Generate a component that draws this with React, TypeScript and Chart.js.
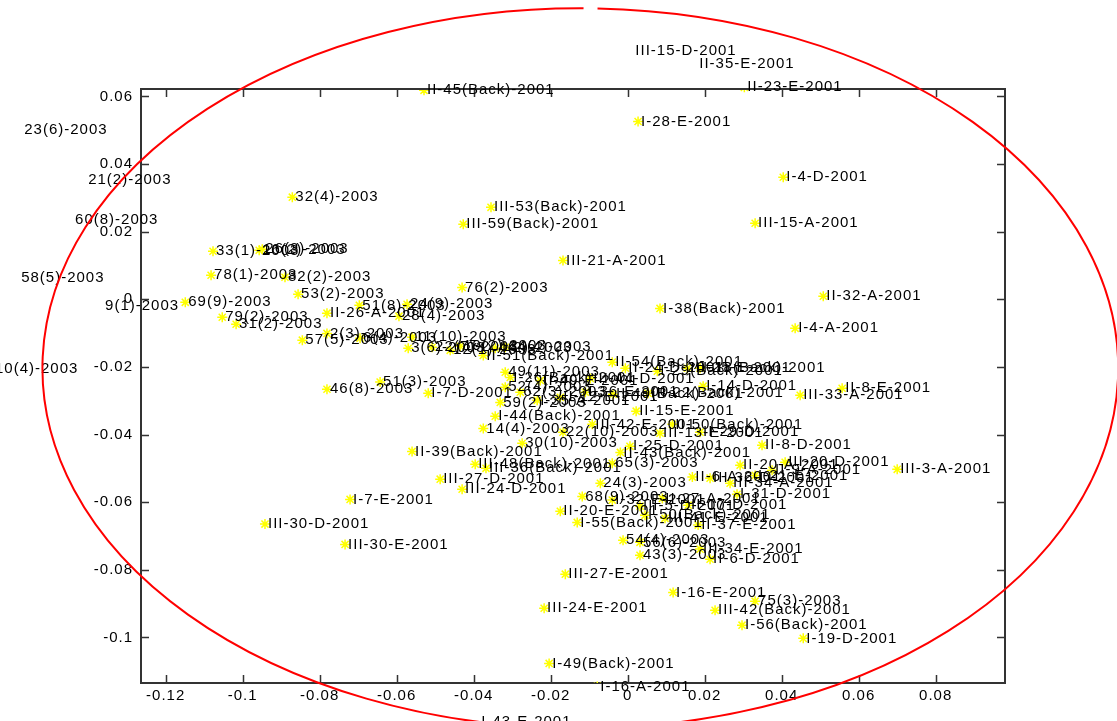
import React, { useEffect, useRef } from 'react';
import { Chart, registerables } from 'chart.js';

Chart.register(...registerables);

const pointLabels: string[] = [
  'III-15-D-2001', 'II-35-E-2001', 'II-23-E-2001', 'II-45(Back)-2001', 'I-28-E-2001',
  '23(6)-2003', '21(2)-2003', '60(8)-2003', '58(5)-2003', '9(1)-2003',
  '10(4)-2003', 'I-43-E-2001', 'I-16-A-2001', 'I-4-D-2001', 'III-15-A-2001',
  '32(4)-2003', 'III-53(Back)-2001', 'III-59(Back)-2001', '33(1)-2003', '16(2)-2003',
  '26(3)-2003', 'III-21-A-2001', '78(1)-2003', '82(2)-2003', '76(2)-2003',
  '53(2)-2003', '69(9)-2003', 'I-38(Back)-2001', 'II-32-A-2001', 'I-4-A-2001',
  '51(8)-2003', '24(9)-2003', 'II-26-A-2001', '28(4)-2003', '79(2)-2003',
  '31(2)-2003', '2(3)-2003', '57(5)-2003', '6(4)-2003', '11(10)-2003',
  '3(6)-2003', '22(7)-2003', '19(2)-2003', '4(2)-2003', '44(4)-2003',
  'II-51(Back)-2001', '49(11)-2003', 'II-54(Back)-2001', 'II-24-D-2001', 'I-29(Back)-2001',
  'III-25-E-2001', 'I-26(Back)-2001', '52(4)-2003', '46(8)-2003', '51(3)-2003',
  'I-7-D-2001', '59(2)-2003', 'I-14-D-2001', 'III-33-A-2001', 'II-8-E-2001',
  'II-15-E-2001', 'I-44(Back)-2001', '14(4)-2003', '22(10)-2003', 'III-42-E-2001',
  'II-50(Back)-2001', '30(10)-2003', 'II-39(Back)-2001', 'II-43(Back)-2001', 'I-25-D-2001',
  '65(3)-2003', 'II-8-D-2001', 'III-48(Back)-2001', 'III-36(Back)-2001', 'III-27-D-2001',
  '24(3)-2003', 'III-24-D-2001', 'III-3-A-2001', 'II-20-A-2001', 'III-20-D-2001',
  'II-9-A-2001', 'II-6-A-2001', 'III-34-A-2001', 'I-31-D-2001', 'I-7-E-2001',
  '68(9)-2003', 'III-30-D-2001', 'II-20-E-2001', 'I-55(Back)-2001', 'II-37-E-2001',
  'III-30-E-2001', '54(4)-2003', '56(6)-2003', '43(3)-2003', 'III-34-E-2001',
  'II-6-D-2001', 'III-27-E-2001', 'I-16-E-2001', '75(3)-2003', 'III-42(Back)-2001',
  'I-56(Back)-2001', 'I-19-D-2001', 'III-24-E-2001', 'I-49(Back)-2001', 'I-36-E-2001',
  'II-49(Back)-2001', 'III-22(Back)-2001', 'I-35-A-2001', 'II-12-E-2001', '62(3)-2003',
  'I-32-E-2001', 'III-5-D-2001', 'II-27-A-2001', 'I-50(Back)-2001', 'III-41-E-2001',
  'II-17-D-2001', '12(1)-2003', 'II-40-E-2001', 'III-44-D-2001', 'I-18(Back)-2001',
  'III-13-E-2001', 'II-29-D-2001', 'III-36-D-2001', 'I-21-E-2001',
];

const xValues: number[] = [
  0.0012, 0.0178, 0.0303, -0.0529, 0.0027,
  -0.1575, -0.1409, -0.1443, -0.1583, -0.1365,
  -0.1651, -0.0388, -0.0079, 0.0404, 0.0331,
  -0.0871, -0.0355, -0.0427, -0.1077, -0.0957,
  -0.0949, -0.0168, -0.1082, -0.0890, -0.0430,
  -0.0856, -0.1149, 0.0084, 0.0508, 0.0435,
  -0.0697, -0.0573, -0.0781, -0.0594, -0.1053,
  -0.1017, -0.0781, -0.0845, -0.0695, -0.0560,
  -0.0570, -0.0508, -0.0435, -0.0344, -0.0318,
  -0.0375, -0.0318, -0.0040, -0.0006, 0.0077,
  0.0155, -0.0305, -0.0318, -0.0781, -0.0643,
  -0.0518, -0.0331, 0.0196, 0.0448, 0.0557,
  0.0022, -0.0344, -0.0375, -0.0168, -0.0092,
  0.0116, -0.0274, -0.0560, -0.0019, 0.0006,
  -0.0040, 0.0349, -0.0396, -0.0368, -0.0487,
  -0.0071, -0.0430, 0.0700, 0.0292, 0.0409,
  0.0375, 0.0168, 0.0266, 0.0284, -0.0721,
  -0.0118, -0.0942, -0.0175, -0.0131, 0.0183,
  -0.0734, -0.0012, 0.0032, 0.0032, 0.0188,
  0.0214, -0.0162, 0.0118, 0.0331, 0.0227,
  0.0297, 0.0456, -0.0217, -0.0204, -0.0110,
  -0.0038, 0.0053, -0.0235, -0.0175, -0.0279,
  -0.0040, 0.0032, 0.0090, 0.0045, 0.0097,
  0.0157, -0.0461, -0.0227, -0.0097, 0.0188,
  0.0084, 0.0188, 0.0214, 0.0331,
];

const yValues: number[] = [
  0.0736, 0.0695, 0.0627, 0.0618, 0.0526,
  0.0500, 0.0352, 0.0234, 0.0062, -0.0018,
  -0.0207, -0.1251, -0.1145, 0.0361, 0.0225,
  0.0302, 0.0272, 0.0222, 0.0142, 0.0145,
  0.0148, 0.0115, 0.0071, 0.0065, 0.0035,
  0.0015, -0.0009, -0.0027, 0.0009, -0.0086,
  -0.0018, -0.0015, -0.0041, -0.0050, -0.0053,
  -0.0074, -0.0101, -0.0121, -0.0115, -0.0112,
  -0.0145, -0.0142, -0.0139, -0.0145, -0.0142,
  -0.0166, -0.0216, -0.0186, -0.0204, -0.0213,
  -0.0204, -0.0231, -0.0260, -0.0266, -0.0245,
  -0.0278, -0.0305, -0.0257, -0.0284, -0.0263,
  -0.0331, -0.0346, -0.0382, -0.0393, -0.0370,
  -0.0370, -0.0426, -0.0450, -0.0453, -0.0435,
  -0.0485, -0.0432, -0.0488, -0.0500, -0.0532,
  -0.0544, -0.0562, -0.0503, -0.0491, -0.0482,
  -0.0506, -0.0526, -0.0544, -0.0577, -0.0592,
  -0.0583, -0.0665, -0.0627, -0.0660, -0.0668,
  -0.0725, -0.0713, -0.0719, -0.0757, -0.0739,
  -0.0769, -0.0813, -0.0867, -0.0893, -0.0920,
  -0.0964, -0.1003, -0.0914, -0.1077, -0.0275,
  -0.0281, -0.0278, -0.0299, -0.0290, -0.0275,
  -0.0594, -0.0612, -0.0589, -0.0639, -0.0648,
  -0.0609, -0.0151, -0.0240, -0.0234, -0.0204,
  -0.0396, -0.0393, -0.0529, -0.0521,
];

const xTickValues = [-0.12, -0.1, -0.08, -0.06, -0.04, -0.02, 0, 0.02, 0.04, 0.06, 0.08];
const yTickValues = [0.06, 0.04, 0.02, 0, -0.02, -0.04, -0.06, -0.08, -0.1];
const xLimits = [-0.1264, 0.098];
const yLimits = [-0.1135, 0.0622];

// red ellipse drawn over the plot (data coordinates of centre and radii)
const ellipseCenter = [-0.0123, -0.0204];
const ellipseRadii = [0.1397, 0.1065];

const FONT = '"Liberation Sans", Arial, sans-serif';

const overlayPlugin = {
  id: 'overlay',
  beforeDraw(chart: any) {
    chart.ctx.letterSpacing = '1px';
  },
  afterDatasetsDraw(chart: any) {
    const { ctx, chartArea: a, scales } = chart;
    const xs = scales.x;
    const ys = scales.y;
    ctx.save();
    ctx.letterSpacing = '0px';
    ctx.strokeStyle = '#333';
    ctx.lineWidth = 2;
    ctx.beginPath();
    ctx.moveTo(a.left, a.top);
    ctx.lineTo(a.right, a.top);
    ctx.lineTo(a.right, a.bottom);
    ctx.stroke();
    ctx.lineWidth = 1.5;
    ctx.beginPath();
    xs.ticks.forEach((t: any) => {
      const px = Math.round(xs.getPixelForValue(t.value)) + 0.5;
      ctx.moveTo(px, a.bottom);
      ctx.lineTo(px, a.bottom - 8);
      ctx.moveTo(px, a.top);
      ctx.lineTo(px, a.top + 8);
    });
    ys.ticks.forEach((t: any) => {
      const py = Math.round(ys.getPixelForValue(t.value)) + 0.5;
      ctx.moveTo(a.left, py);
      ctx.lineTo(a.left + 8, py);
      ctx.moveTo(a.right, py);
      ctx.lineTo(a.right - 8, py);
    });
    ctx.stroke();

    // point labels (not clipped)
    ctx.font = `15px ${FONT}`;
    ctx.letterSpacing = '1px';
    ctx.fillStyle = '#000';
    ctx.textBaseline = 'middle';
    ctx.textAlign = 'left';
    const meta = chart.getDatasetMeta(0);
    meta.data.forEach((pt: any, i: number) => {
      ctx.fillText(pointLabels[i], pt.x + 3, pt.y);
    });

    // ellipse
    const cx = xs.getPixelForValue(ellipseCenter[0]);
    const cy = ys.getPixelForValue(ellipseCenter[1]);
    const rx = Math.abs(xs.getPixelForValue(ellipseCenter[0] + ellipseRadii[0]) - cx);
    const ry = Math.abs(ys.getPixelForValue(ellipseCenter[1] + ellipseRadii[1]) - cy);
    const gapStart = -Math.PI / 2 + 0.006;
    const gapEnd = -Math.PI / 2 + 0.032;
    ctx.strokeStyle = '#ff0000';
    ctx.lineWidth = 2;
    ctx.beginPath();
    ctx.ellipse(cx, cy, rx, ry, 0, gapEnd, gapStart + Math.PI * 2);
    ctx.stroke();
    ctx.restore();
  },
};

const fmt = (v: number) => {
  const s = Number(v.toFixed(2)).toString();
  return s === '-0' ? '0' : s;
};

export default function App() {
  const ref = useRef<HTMLCanvasElement | null>(null);
  useEffect(() => {
    document.body.style.margin = '0';
    const canvas = ref.current;
    if (!canvas) return;
    const data = xValues.map((x, i) => ({ x, y: yValues[i] }));
    const chart = new Chart(canvas, {
      type: 'scatter',
      data: {
        datasets: [
          {
            data,
            pointStyle: 'star',
            pointRadius: 5,
            pointBorderWidth: 1.5,
            pointBorderColor: '#ffff00',
            pointBackgroundColor: '#ffff00',
            clip: 0,
          } as any,
        ],
      },
      options: {
        animation: false,
        responsive: false,
        devicePixelRatio: 1,
        layout: { padding: { top: 89, right: 112, left: 0, bottom: 0 } },
        plugins: { legend: { display: false }, tooltip: { enabled: false } },
        scales: {
          x: {
            type: 'linear',
            min: xLimits[0],
            max: xLimits[1],
            afterBuildTicks: (s: any) => {
              s.ticks = xTickValues.map((v) => ({ value: v }));
            },
            afterFit: (s: any) => {
              s.height = 38;
            },
            grid: { display: false, drawTicks: false },
            border: { display: true, color: '#333', width: 2 },
            ticks: {
              padding: 4,
              color: '#000',
              font: { family: FONT, size: 15 },
              maxRotation: 0,
              autoSkip: false,
              callback: (v: any) => fmt(Number(v)),
            },
          },
          y: {
            type: 'linear',
            min: yLimits[0],
            max: yLimits[1],
            afterBuildTicks: (s: any) => {
              s.ticks = yTickValues.map((v) => ({ value: v }));
            },
            afterFit: (s: any) => {
              s.width = 141;
            },
            grid: { display: false, drawTicks: false },
            border: { display: true, color: '#333', width: 2 },
            ticks: {
              padding: 8,
              color: '#000',
              font: { family: FONT, size: 15 },
              autoSkip: false,
              callback: (v: any) => fmt(Number(v)),
            },
          },
        },
      },
      plugins: [overlayPlugin],
    });
    return () => chart.destroy();
  }, []);
  return (
    <div style={{ width: 1117, height: 721 }}>
      <canvas ref={ref} width={1117} height={721} />
    </div>
  );
}
